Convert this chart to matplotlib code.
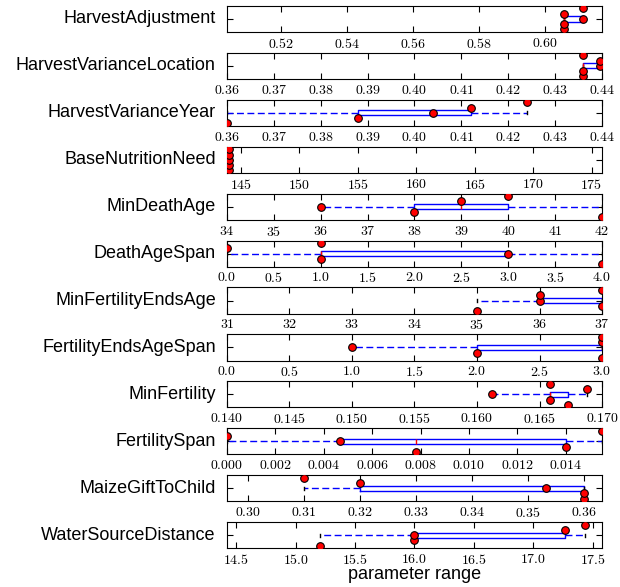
import matplotlib
matplotlib.use('Agg')
import matplotlib.pyplot as plt
from matplotlib.ticker import MultipleLocator

# parameter names (top to bottom)
names = ['HarvestAdjustment', 'HarvestVarianceLocation', 'HarvestVarianceYear',
         'BaseNutritionNeed', 'MinDeathAge', 'DeathAgeSpan', 'MinFertilityEndsAge',
         'FertilityEndsAgeSpan', 'MinFertility', 'FertilitySpan',
         'MaizeGiftToChild', 'WaterSourceDistance']

# vertical offset of every run (same for all panels)
run_y = [0.6, 0.8, 1.0, 1.2, 1.4]

# values of the 5 runs for each parameter
harvest_adjustment = [0.6058, 0.6058, 0.6114, 0.6058, 0.6114]
harvest_var_location = [0.436, 0.436, 0.4396, 0.4396, 0.436]
harvest_var_year = [0.360, 0.388, 0.404, 0.412, 0.424]
base_nutrition_need = [144.0, 144.0, 144.0, 144.0, 144.0]
min_death_age = [42, 38, 36, 39, 40]
death_age_span = [4, 1, 3, 0, 1]
min_fertility_ends_age = [35, 37, 36, 36, 37]
fertility_ends_age_span = [3, 2, 1, 3, 3]
min_fertility = [0.1673, 0.1658, 0.1612, 0.1688, 0.1658]
fertility_span = [0.0078, 0.0140, 0.00466, 0.0, 0.0155]
maize_gift_to_child = [0.36, 0.36, 0.3533, 0.32, 0.31]
water_source_distance = [15.2, 16.0, 16.0, 17.27, 17.44]

values = [harvest_adjustment, harvest_var_location, harvest_var_year,
          base_nutrition_need, min_death_age, death_age_span,
          min_fertility_ends_age, fertility_ends_age_span, min_fertility,
          fertility_span, maize_gift_to_child, water_source_distance]

# parameter ranges shown on the x axes
x_limits = [(0.5036, 0.6173), (0.36, 0.44), (0.36, 0.44), (143.8, 175.9),
            (34, 42), (0, 4), (31, 37), (0, 3), (0.140, 0.170),
            (0, 0.0155), (0.2962, 0.3633), (14.42, 17.58)]
tick_steps = [0.02, 0.01, 0.01, 5, 1, 0.5, 1, 0.5, 0.005, 0.002, 0.01, 0.5]

plt.rcParams['axes.formatter.use_mathtext'] = True

fig, axes = plt.subplots(12, 1, figsize=(6.2, 5.87), dpi=100)
fig.subplots_adjust(left=0.366, right=0.971, top=0.99, bottom=0.066, hspace=0.8)

for ax, name, vals, lim, step in zip(axes, names, values, x_limits, tick_steps):
    ax.boxplot(vals, orientation='horizontal', whis=(0, 100), widths=0.2,
               showfliers=False,
               boxprops=dict(color='blue', linewidth=1),
               whiskerprops=dict(color='blue', linewidth=1, linestyle=(0, (5, 2.5))),
               capprops=dict(color='black', linewidth=1),
               medianprops=dict(color='red', linewidth=1))
    ax.plot(vals, run_y, 'o', color='red', markeredgecolor='black',
            markeredgewidth=0.8, markersize=5.5, zorder=3)
    ax.set_xlim(lim)
    ax.set_ylim(0.5, 1.5)
    ax.xaxis.set_major_locator(MultipleLocator(step))
    ax.set_yticks([1])
    ax.tick_params(axis='x', direction='in', top=True, length=4,
                   labelsize=10, labelfontfamily='cmr10')
    ax.tick_params(axis='y', direction='in', left=True, right=True,
                   labelleft=False, length=4)
    ax.set_ylabel(name, rotation=0, ha='right', va='center', fontsize=13,
                  family='Liberation Sans', labelpad=8)

axes[-1].set_xlabel('parameter range', fontsize=13, family='Liberation Sans',
                    labelpad=-1)

fig.savefig('out.png', dpi=100)
